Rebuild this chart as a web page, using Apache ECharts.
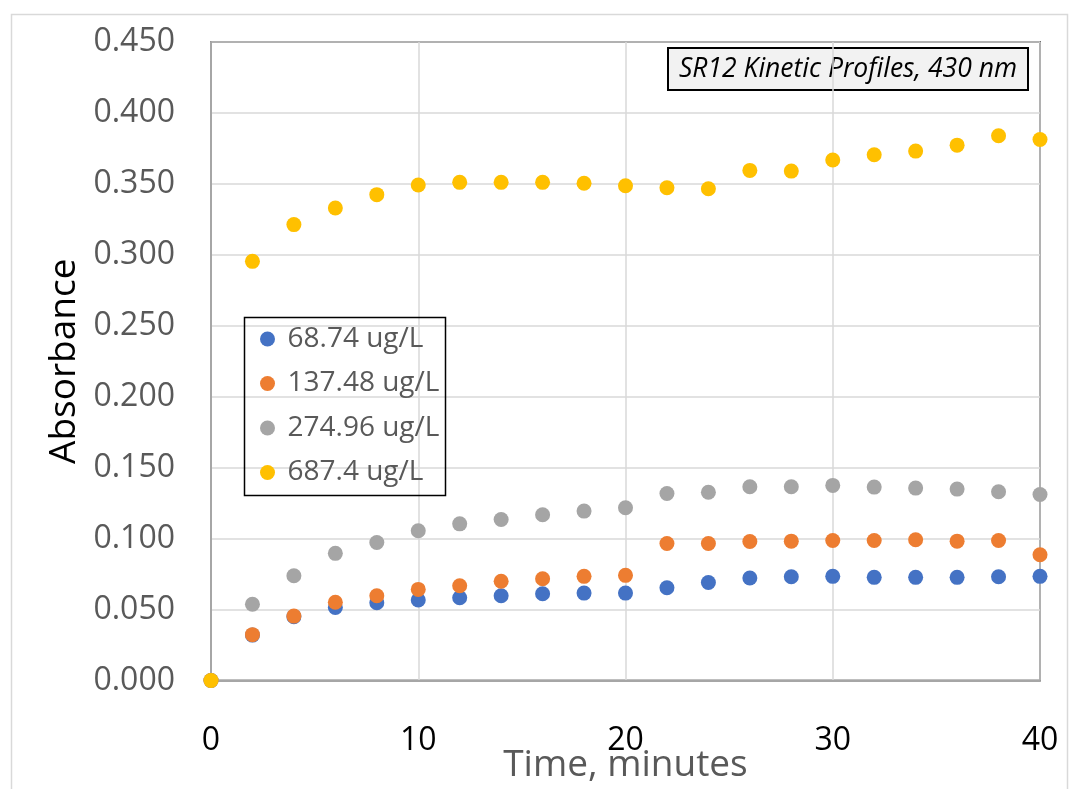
<!DOCTYPE html>
<html>
<head>
<meta charset="utf-8">
<script src="https://cdn.jsdelivr.net/npm/echarts@6/dist/echarts.min.js"></script>
<style>
  html, body { margin: 0; padding: 0; background: #fff; }
  #chart { width: 1074px; height: 789px; }
</style>
</head>
<body>
<div id="chart"></div>
<script>
// Sampling times (minutes)
const times = [0, 2, 4, 6, 8, 10, 12, 14, 16, 18, 20, 22, 24, 26, 28, 30, 32, 34, 36, 38, 40];

// Absorbance at 430 nm for each concentration
const abs6874 = [0.000, 0.032, 0.045, 0.0515, 0.0548, 0.0567, 0.0583, 0.0597, 0.0611, 0.0616, 0.0616,
                 0.0654, 0.0691, 0.0722, 0.0731, 0.0734, 0.0727, 0.0727, 0.0727, 0.0731, 0.0734];
const abs13748 = [0.000, 0.0323, 0.0454, 0.0551, 0.0597, 0.0642, 0.0668, 0.0699, 0.0717, 0.0734, 0.0741,
                  0.0966, 0.0966, 0.0980, 0.0982, 0.0987, 0.0987, 0.0992, 0.0982, 0.0987, 0.0886];
const abs27496 = [0.000, 0.0537, 0.0738, 0.0896, 0.0973, 0.1055, 0.1104, 0.1135, 0.1168, 0.1194, 0.1217,
                  0.1318, 0.1327, 0.1365, 0.1365, 0.1375, 0.1363, 0.1356, 0.1349, 0.1330, 0.1311];
const abs6874b = [0.000, 0.2954, 0.3213, 0.3330, 0.3424, 0.3492, 0.3511, 0.3511, 0.3511, 0.3504, 0.3487,
                  0.3473, 0.3466, 0.3595, 0.3590, 0.3668, 0.3705, 0.3731, 0.3773, 0.3839, 0.3813];

const seriesNames = ['68.74 ug/L', '137.48 ug/L', '274.96 ug/L', '687.4 ug/L'];
const seriesValues = [abs6874, abs13748, abs27496, abs6874b];
const seriesColors = ['#4472C4', '#ED7D31', '#A5A5A5', '#FFC000'];

const chartTitle = 'SR12 Kinetic Profiles, 430 nm';
const xTitle = 'Time, minutes';
const yTitle = 'Absorbance';

const FONT = '"Open Sans", "Noto Sans", sans-serif';

const chart = echarts.init(document.getElementById('chart'), null, { renderer: 'canvas' });

chart.setOption({
  animation: false,
  backgroundColor: '#ffffff',
  grid: {
    left: 211, right: 34, top: 42, bottom: 108.5,
    containLabel: false, outerBoundsMode: 'none',
    show: true, borderColor: '#000000', borderWidth: 1.5, backgroundColor: 'transparent'
  },
  xAxis: {
    type: 'value', min: 0, max: 40, interval: 10,
    name: xTitle, nameLocation: 'middle', nameGap: 66, nameMoveOverlap: false,
    nameTextStyle: { fontFamily: FONT, fontSize: 37, color: '#595959' },
    axisLine: { show: true, onZero: false, lineStyle: { color: '#A6A6A6', width: 2 } },
    axisTick: { show: false },
    axisLabel: { margin: 44, fontFamily: FONT, fontSize: 32, color: '#000000' },
    splitLine: { show: true, lineStyle: { color: '#D9D9D9', width: 1.5 } }
  },
  yAxis: {
    type: 'value', min: 0, max: 0.45, interval: 0.05,
    name: yTitle, nameLocation: 'middle', nameGap: 128, nameRotate: 90, nameMoveOverlap: false,
    nameTextStyle: { fontFamily: FONT, fontSize: 37, color: '#000000' },
    axisLine: { show: true, onZero: false, lineStyle: { color: '#A6A6A6', width: 2 } },
    axisTick: { show: false },
    axisLabel: {
      margin: 36, fontFamily: FONT, fontSize: 32, color: '#595959',
      formatter: v => v.toFixed(3)
    },
    splitLine: { show: true, lineStyle: { color: '#D9D9D9', width: 1.5 } }
  },
  legend: {
    orient: 'vertical', left: 242, top: 315,
    padding: [10, 6, 10, 18],
    itemGap: 16.5, itemWidth: 30, itemHeight: 15,
    icon: 'circle',
    textStyle: { fontFamily: FONT, fontSize: 28, color: '#595959', padding: [0, 0, 0, 0] },
    data: seriesNames
  },
  graphic: [
    // outer chart frame
    { type: 'rect', left: 9, top: 12, shape: { width: 1056, height: 800 },
      style: { fill: 'none', stroke: '#D9D9D9', lineWidth: 1.5 }, silent: true, z: -10 },
    // legend frame
    { type: 'rect', left: 242, top: 315, shape: { width: 201, height: 178 },
      style: { fill: 'none', stroke: '#000000', lineWidth: 1.5 }, silent: true, z: 10 },
    // chart title box
    { type: 'group', left: 667, top: 47, z: 10, children: [
      { type: 'rect', shape: { width: 360, height: 42 },
        style: { fill: '#F2F2F2', stroke: '#000000', lineWidth: 2 } },
      { type: 'text', x: 180, y: 21,
        style: { text: chartTitle, fontFamily: FONT, fontStyle: 'italic', fontSize: 26.5,
                 fill: '#000000', align: 'center', verticalAlign: 'middle' } }
    ] }
  ],
  series: seriesNames.map((name, i) => ({
    name: name,
    type: 'scatter',
    symbol: 'circle',
    symbolSize: 15,
    itemStyle: { color: seriesColors[i], opacity: 1 },
    data: times.map((t, j) => [t, seriesValues[i][j]]),
    z: 2 + i
  }))
});
</script>
</body>
</html>
